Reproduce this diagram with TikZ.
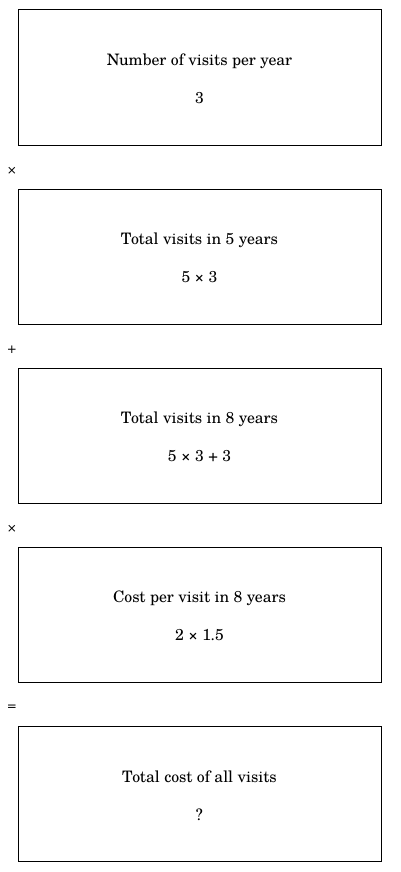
\documentclass[tikz,border=0pt]{standalone}
\usepackage{fontspec}
\setmainfont{TeX Gyre Schola}
\newfontfamily\opfont{DejaVu Sans}
\begin{document}
\begin{tikzpicture}[x=1pt,y=-1pt,
  stepbox/.style={draw=black,line width=1pt,minimum width=363pt,minimum height=135pt,inner sep=0pt},
  title/.style={font=\fontsize{15.8}{18}\selectfont,anchor=center},
  val/.style={font=\fontsize{15.8}{18}\selectfont,anchor=center},
  op/.style={font=\opfont\fontsize{12}{14}\selectfont,anchor=center}]
\useasboundingbox (0,0) rectangle (400,872);
\foreach \i/\y/\t/\v in {1/77.5/Number of visits per year/3,
  2/256.5/Total visits in 5 years/5 × 3,
  3/435.5/Total visits in 8 years/5 × 3 + 3,
  4/614.5/Cost per visit in 8 years/2 × 1.5,
  5/793.5/Total cost of all visits/?}{
  \node[stepbox] (b\i) at (199.5,\y) {};
  \node[title] (t\i) at (199.5,\y-16.5) {\t};
  \node[val] (v\i) at (199.5,\y+21) {\v};
}
\node[op] (o1) at (12,170.5) {×};
\node[op] (o2) at (12,349.5) {+};
\node[op] (o3) at (12,528.5) {×};
\node[op] (o4) at (12,707.5) {=};
\end{tikzpicture}
\end{document}
